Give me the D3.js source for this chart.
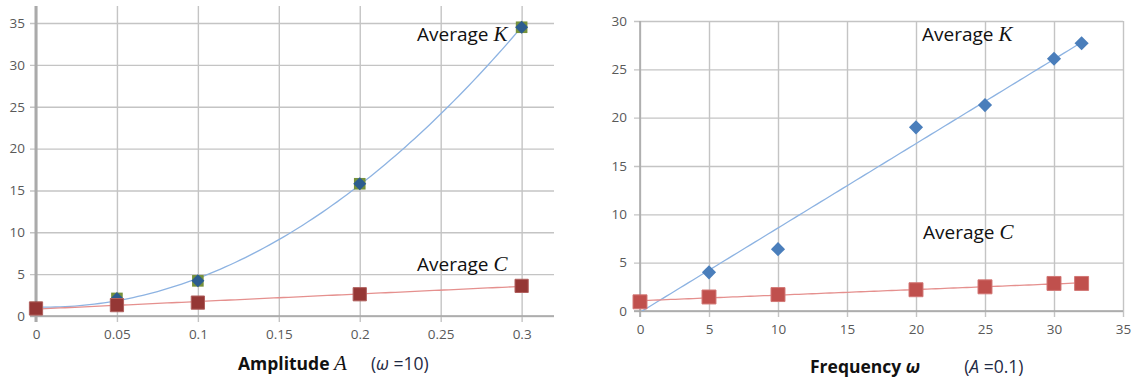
<!DOCTYPE html>
<html>
<head>
<meta charset="utf-8">
<title>Average K and C</title>
<script src="https://d3js.org/d3.v7.min.js"></script>
<style>
  body { margin: 0; background: #fff; }
  .tick text { font-family: "Open Sans", sans-serif; font-size: 13.5px; fill: #595959; }
  .grid .tick line { stroke: #c4c4c4; stroke-width: 1.4; }
  .grid .domain { display: none; }
  .lbl { font-family: "Open Sans", sans-serif; font-size: 19px; fill: #111; }
  .ital { font-family: "Liberation Serif", serif; font-style: italic; font-size: 21px; }
  .ttl { font-family: "Open Sans", sans-serif; font-size: 17.5px; fill: #111; }
</style>
</head>
<body>
<div id="chart"></div>
<script>

// left chart: amplitude sweep (omega = 10)
var ampA = [0, 0.05, 0.1, 0.2, 0.3];
var ampK = [1.0, 2.1, 4.2, 15.8, 34.5];
var ampC = [0.9, 1.3, 1.6, 2.6, 3.6];
var ampXTicks = [0, 0.05, 0.1, 0.15, 0.2, 0.25, 0.3];
var ampYTicks = [0, 5, 10, 15, 20, 25, 30, 35];

// right chart: frequency sweep (A = 0.1)
var freqW = [0, 5, 10, 20, 25, 30, 32];
var freqK = [1.0, 4.0, 6.4, 19.0, 21.3, 26.1, 27.7];
var freqC = [0.95, 1.45, 1.7, 2.2, 2.5, 2.85, 2.85];
var freqXTicks = [0, 5, 10, 15, 20, 25, 30, 35];
var freqYTicks = [0, 5, 10, 15, 20, 25, 30];

var svg = d3.select("#chart")
  .append("svg")
  .attr("width", 1133)
  .attr("height", 380);

// least squares polynomial fit (what the spreadsheet trendline does)
function polyFit(xs, ys, deg) {
  var n = deg + 1, M = [], i, j, k;
  for (i = 0; i < n; i++) {
    M.push([]);
    for (j = 0; j < n; j++) M[i].push(d3.sum(xs, function(x) { return Math.pow(x, i + j); }));
    M[i].push(d3.sum(xs, function(x, t) { return Math.pow(x, i) * ys[t]; }));
  }
  for (i = 0; i < n; i++) {
    for (k = i + 1; k < n; k++) {
      var f = M[k][i] / M[i][i];
      for (j = i; j <= n; j++) M[k][j] -= f * M[i][j];
    }
  }
  var c = new Array(n).fill(0);
  for (i = n - 1; i >= 0; i--) {
    var s = M[i][n];
    for (j = i + 1; j < n; j++) s -= M[i][j] * c[j];
    c[i] = s / M[i][i];
  }
  return function(x) { return d3.sum(c, function(ci, p) { return ci * Math.pow(x, p); }); };
}

function panel(o) {
  var g = svg.append("g");
  var x = o.x, y = o.y;
  var xr = x.range(), yr = y.range();

  g.append("clipPath").attr("id", o.id)
    .append("rect")
    .attr("x", xr[0]).attr("y", yr[1])
    .attr("width", xr[1] - xr[0]).attr("height", yr[0] - yr[1]);

  // horizontal grid + y labels
  g.append("g")
    .attr("class", "grid")
    .attr("transform", "translate(" + (xr[0] - 6) + ",0)")
    .call(d3.axisLeft(y).tickValues(o.yTicks).tickSize(-(xr[1] - xr[0] + 6)).tickPadding(o.yPad));

  // vertical grid + x labels
  g.append("g")
    .attr("class", "grid")
    .attr("transform", "translate(0," + (yr[0] + 6) + ")")
    .call(d3.axisBottom(x).tickValues(o.xTicks).tickSize(-(yr[0] + 6 - o.top)).tickPadding(o.xPad)
      .tickFormat(function(d) { return d3.format("~g")(d); }));

  // axis lines
  g.append("line")
    .attr("x1", xr[0]).attr("x2", xr[0])
    .attr("y1", o.top).attr("y2", yr[0] + 6)
    .attr("stroke", "#aaaaaa").attr("stroke-width", o.axisW);
  g.append("line")
    .attr("x1", xr[0] - 6).attr("x2", xr[1])
    .attr("y1", yr[0]).attr("y2", yr[0])
    .attr("stroke", "#a6a6a6").attr("stroke-width", 1.6);

  // trendlines
  var fitK = polyFit(o.xs, o.k, o.degK);
  var fitC = polyFit(o.xs, o.c, 1);
  var xmax = d3.max(o.xs);
  var samples = d3.range(0, 101).map(function(i) { return xmax * i / 100; });
  var line = function(f) {
    return d3.line().x(function(d) { return x(d); }).y(function(d) { return y(f(d)); })(samples);
  };
  g.append("path").attr("d", line(fitK)).attr("fill", "none")
    .attr("stroke", "#8db3e2").attr("stroke-width", 1.3).attr("clip-path", "url(#" + o.id + ")");
  g.append("path").attr("d", line(fitC)).attr("fill", "none")
    .attr("stroke", "#e5908e").attr("stroke-width", 1.3).attr("clip-path", "url(#" + o.id + ")");

  // K markers
  var kg = g.selectAll(".km")
    .data(o.xs.map(function(d, i) { return [d, o.k[i]]; }))
    .enter().append("g")
    .attr("transform", function(d) { return "translate(" + x(d[0]) + "," + y(d[1]) + ")"; });
  if (o.kSquare) {
    kg.append("path")
      .attr("d", d3.symbol(d3.symbolSquare, o.kSquare.size))
      .attr("fill", o.kSquare.fill);
  }
  kg.append("path")
    .attr("d", d3.symbol(d3.symbolSquare, o.kDiamond.size))
    .attr("transform", "rotate(45)")
    .attr("fill", o.kDiamond.fill);

  // C markers
  g.selectAll(".cm")
    .data(o.xs.map(function(d, i) { return [d, o.c[i]]; }))
    .enter().append("path")
    .attr("transform", function(d) { return "translate(" + x(d[0]) + "," + y(d[1]) + ")"; })
    .attr("d", d3.symbol(d3.symbolSquare, o.cSize))
    .attr("fill", o.cFill)
    .attr("stroke", o.cStroke).attr("stroke-width", 1);
}

panel({
  id: "clipL",
  x: d3.scaleLinear().domain([0, 0.32]).range([36, 554]),
  y: d3.scaleLinear().domain([0, 36.8]).range([316, 8]),
  top: 6, xTicks: ampXTicks, yTicks: ampYTicks, yPad: 5, xPad: 7, axisW: 3,
  xs: ampA, k: ampK, c: ampC, degK: 2,
  kSquare: {size: 135, fill: "#76923c"},
  kDiamond: {size: 85, fill: "#2c5d8f"},
  cSize: 175, cFill: "#953735", cStroke: "#b0605e"
});

panel({
  id: "clipR",
  x: d3.scaleLinear().domain([0, 35]).range([640, 1123]),
  y: d3.scaleLinear().domain([0, 30]).range([311, 21]),
  top: 21, xTicks: freqXTicks, yTicks: freqYTicks, yPad: 7, xPad: 7, axisW: 1.6,
  xs: freqW, k: freqK, c: freqC, degK: 1,
  kSquare: null,
  kDiamond: {size: 100, fill: "#4a7ebb"},
  cSize: 195, cFill: "#c0504d", cStroke: "#d27775"
});

// series labels
function seriesLabel(px, py, letter) {
  var t = svg.append("text").attr("class", "lbl").attr("x", px).attr("y", py);
  t.append("tspan").text("Average ");
  t.append("tspan").attr("class", "ital").text(letter);
}
seriesLabel(417, 41, "K");
seriesLabel(417, 271, "C");
seriesLabel(922, 41, "K");
seriesLabel(923, 239, "C");

// axis titles
var t1 = svg.append("text").attr("class", "ttl").attr("x", 238).attr("y", 370);
t1.append("tspan").attr("font-weight", "bold").text("Amplitude ");
t1.append("tspan").attr("class", "ital").attr("font-size", "22px").text("A");
t1.append("tspan").attr("fill", "#1f2a44").attr("dx", 24).text("(");
t1.append("tspan").attr("fill", "#1f2a44").attr("font-style", "italic").text("ω");
t1.append("tspan").attr("fill", "#1f2a44").text(" =10)");

var t2 = svg.append("text").attr("class", "ttl").attr("x", 810).attr("y", 373);
t2.append("tspan").attr("font-weight", "bold").text("Frequency ");
t2.append("tspan").attr("font-weight", "bold").attr("font-style", "italic").text("ω");
t2.append("tspan").attr("fill", "#1f2a44").attr("dx", 44).text("(");
t2.append("tspan").attr("fill", "#1f2a44").attr("font-style", "italic").text("A");
t2.append("tspan").attr("fill", "#1f2a44").text(" =0.1)");

</script>
</body>
</html>
